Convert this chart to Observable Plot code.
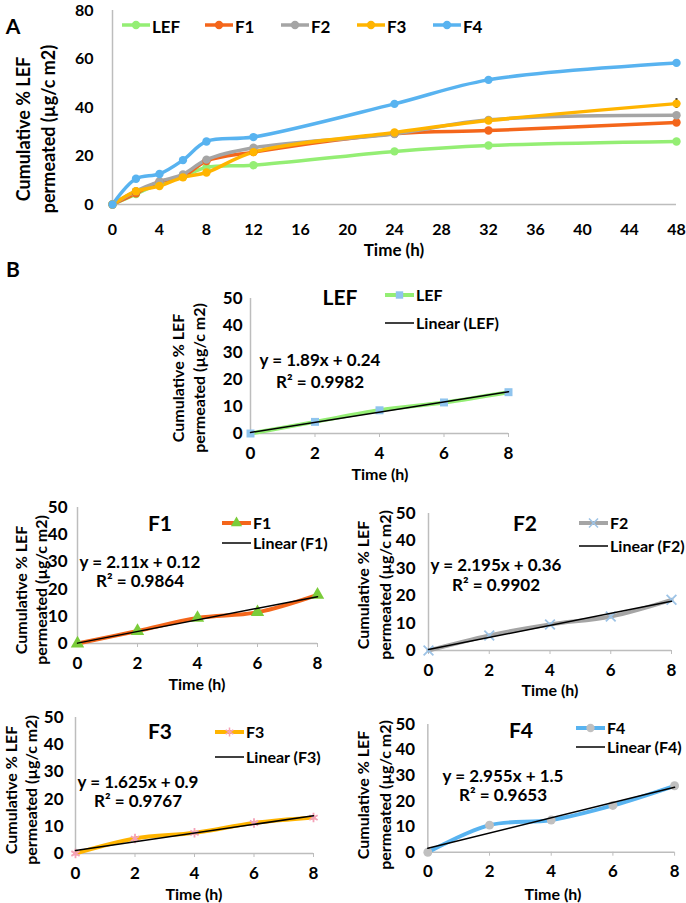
<!DOCTYPE html>
<html>
<head>
<meta charset="utf-8">
<script src="https://cdn.jsdelivr.net/npm/d3@7"></script>
<script src="https://cdn.jsdelivr.net/npm/@observablehq/plot@0.6"></script>
<style>
  html, body { margin: 0; padding: 0; background: #fff; }
  #root { position: relative; width: 686px; height: 903px; background: #fff; font-family: Lato, "Open Sans", sans-serif; font-weight: bold; color: #000; overflow: hidden; }
  .abs { position: absolute; white-space: nowrap; line-height: 1; }
  .plotbox { position: absolute; }
</style>
</head>
<body>
<div id="root"></div>
<script>
// ---------------- DATA ----------------
const times = [0, 2, 4, 6, 8, 12, 24, 32, 48];
const seriesNames = ["LEF", "F1", "F2", "F3", "F4"];
const lefValues = [0, 4.3, 8.6, 11.5, 15.3, 16.2, 21.9, 24.3, 26.0];
const f1Values  = [0, 4.6, 9.4, 11.5, 17.9, 21.6, 29.2, 30.5, 33.8];
const f2Values  = [0, 5.5, 9.5, 12.4, 18.5, 23.4, 29.1, 34.9, 36.8];
const f3Values  = [0, 5.5, 7.6, 11.2, 13.2, 21.6, 29.7, 34.6, 41.6];
const f4Values  = [0, 10.6, 12.6, 18.3, 26.0, 27.8, 41.5, 51.4, 58.4];
const f1Err = [0, 0, 0, 0, 0, 1.8, 0, 0, 0];
const f2Err = [0, 0, 0, 0, 0.8, 0, 0, 0, 1.0];
const f3Err = [0, 0, 0, 0, 0, 0, 0, 0, 2.0];
const f4Err = [0, 0, 0, 0, 1.2, 0, 0, 0, 0.8];
const lefErr = [0, 0, 0, 0, 0, 0, 0, 0, 0];
const xTicksA = [0, 4, 8, 12, 16, 20, 24, 28, 32, 36, 40, 44, 48];
const yTicksA = [0, 20, 40, 60, 80];
const xTicksB = [0, 2, 4, 6, 8];
const yTicksB = [0, 10, 20, 30, 40, 50];
const fitEquations = ["y = 1.89x + 0.24", "y = 2.11x + 0.12", "y = 2.195x + 0.36", "y = 1.625x + 0.9", "y = 2.955x + 1.5"];
const fitR2 = ["R² = 0.9982", "R² = 0.9864", "R² = 0.9902", "R² = 0.9767", "R² = 0.9653"];
const yTitleLines = ["Cumulative % LEF", "permeated (µg/c m2)"];
const xTitle = "Time (h)";

// ---------------- STYLE ----------------
const allValues = [lefValues, f1Values, f2Values, f3Values, f4Values];
const allErr = [lefErr, f1Err, f2Err, f3Err, f4Err];
const lineColors = ["#94EE74", "#F4661B", "#A5A5A5", "#FFB400", "#58B3F0"];
const markerColorsB = ["#8FC4EE", "#7ACC3A", "#9DC3E6", "#F4A2B8", "#C0C0C0"];
const markerSymbolsB = ["square", "triangle", "times", "asterisk", "circle"];
const axisGray = "#BDBDBD";
const FONT = "Lato, 'Open Sans', sans-serif";

const root = document.getElementById("root");

function addText(txt, x, y, size, anchor = "middle", rotate = false) {
  const d = document.createElement("div");
  d.className = "abs";
  d.textContent = txt;
  d.style.left = x + "px";
  d.style.top = y + "px";
  d.style.fontSize = size + "px";
  let tr = anchor === "middle" ? "translate(-50%,-50%)" : "translate(0,-50%)";
  if (rotate) tr += " rotate(-90deg)";
  d.style.transform = tr;
  root.appendChild(d);
}

const symbolMap = {
  square: d3.symbolSquare, triangle: d3.symbolTriangle, times: d3.symbolTimes,
  asterisk: d3.symbolAsterisk, circle: d3.symbolCircle
};
const strokeSymbols = new Set(["times", "asterisk"]);

function addSwatch(x, y, w, lineColor, lineWidth, symbol, markerColor, symSize) {
  const ns = "http://www.w3.org/2000/svg";
  const svg = document.createElementNS(ns, "svg");
  svg.setAttribute("width", w);
  svg.setAttribute("height", 16);
  svg.style.position = "absolute";
  svg.style.left = x + "px";
  svg.style.top = (y - 8) + "px";
  svg.style.overflow = "visible";
  const ln = document.createElementNS(ns, "line");
  ln.setAttribute("x1", 0); ln.setAttribute("x2", w);
  ln.setAttribute("y1", 8); ln.setAttribute("y2", 8);
  ln.setAttribute("stroke", lineColor); ln.setAttribute("stroke-width", lineWidth);
  svg.appendChild(ln);
  if (symbol) {
    const p = document.createElementNS(ns, "path");
    p.setAttribute("d", d3.symbol(symbolMap[symbol], symSize)());
    p.setAttribute("transform", `translate(${w / 2},8)`);
    if (strokeSymbols.has(symbol)) {
      p.setAttribute("fill", "none"); p.setAttribute("stroke", markerColor); p.setAttribute("stroke-width", 1.5);
    } else {
      p.setAttribute("fill", markerColor);
    }
    svg.appendChild(p);
  }
  root.appendChild(svg);
}

function place(el, left, top) {
  const box = document.createElement("div");
  box.className = "plotbox";
  box.style.left = left + "px";
  box.style.top = top + "px";
  box.appendChild(el);
  root.appendChild(box);
}

// ---------------- PANEL A ----------------
const dataA = [];
const errA = [];
seriesNames.forEach((s, i) => {
  times.forEach((t, j) => {
    dataA.push({series: s, t, v: allValues[i][j]});
    if (allErr[i][j] > 0) errA.push({series: s, t, v: allValues[i][j], e: allErr[i][j]});
  });
});

const plotA = Plot.plot({
  width: 686, height: 260,
  marginLeft: 112, marginRight: 10, marginTop: 10, marginBottom: 56,
  x: {domain: [0, 48]},
  y: {domain: [0, 80]},
  color: {domain: seriesNames, range: lineColors},
  style: {fontFamily: FONT, fontSize: "16px", fontWeight: "bold", color: "#000", background: "transparent", overflow: "visible"},
  marks: [
    Plot.ruleX([0], {stroke: axisGray, strokeWidth: 1.5}),
    Plot.ruleY([0], {stroke: axisGray, strokeWidth: 1.5}),
    Plot.axisX({ticks: xTicksA, tickSize: 0, tickPadding: 19, label: null}),
    Plot.axisY({ticks: yTicksA, tickSize: 0, tickPadding: 19, label: null}),
    Plot.line(dataA, {x: "t", y: "v", z: "series", stroke: "series", strokeWidth: 3.5, curve: "catmull-rom"}),
    Plot.ruleX(errA, {x: "t", y1: d => d.v - d.e, y2: d => d.v + d.e, stroke: "#000", strokeWidth: 2}),
    Plot.dot(dataA, {x: "t", y: "v", fill: "series", r: 4.2})
  ]
});
place(plotA, 0, 0);

addText("A", 13, 25, 21);
addText(yTitleLines[0], 23, 129, 18, "middle", true);
addText(yTitleLines[1], 48, 129, 18, "middle", true);
addText(xTitle, 394, 249, 17);

const legendAX = [122, 205, 281, 357, 433];
seriesNames.forEach((s, i) => {
  addSwatch(legendAX[i], 25, 28, lineColors[i], 3.5, "circle", lineColors[i], 55);
  addText(s, legendAX[i] + 30, 26, 17, "start");
});

addText("B", 13, 268, 21);

// ---------------- PANEL B ----------------
const layoutB = [
  {x0: 250, x1: 508, yT: 298, yB: 433, yPad: 8,  title: [340, 296], leg: [385, 295, 323], eq: [320, 359], r2: 381, yt: [178, 199, 378], xt: [380, 474]},
  {x0: 77,  x1: 317, yT: 507, yB: 643, yPad: 10, title: [160, 522], leg: [222, 523, 543], eq: [140, 561], r2: 580, yt: [21, 41, 590],   xt: [197, 684]},
  {x0: 428, x1: 671, yT: 513, yB: 650, yPad: 13, title: [525, 522], leg: [579, 523, 546], eq: [496, 564], r2: 584, yt: [363, 385, 585], xt: [550, 690]},
  {x0: 75,  x1: 313, yT: 717, yB: 853, yPad: 12, title: [160, 730], leg: [215, 732, 757], eq: [138, 781], r2: 800, yt: [11, 31, 790],   xt: [194, 894]},
  {x0: 428, x1: 677, yT: 724, yB: 853, yPad: 13, title: [521, 729], leg: [576, 728, 747], eq: [503, 775], r2: 794, yt: [363, 385, 795], xt: [553, 894]}
];

seriesNames.forEach((s, i) => {
  const g = layoutB[i];
  const data = xTicksB.map((t, j) => ({t, v: allValues[i][j]}));
  const mL = 75, mR = 12, mT = 10, mB = 40;
  const sym = markerSymbolsB[i];
  const dotOpts = strokeSymbols.has(sym)
    ? {x: "t", y: "v", symbol: sym, r: 4.5, stroke: markerColorsB[i], strokeWidth: 1.8, fill: "none"}
    : {x: "t", y: "v", symbol: sym, r: sym === "triangle" ? 5 : 4.5, fill: markerColorsB[i]};
  const p = Plot.plot({
    width: g.x1 - g.x0 + mL + mR,
    height: g.yB - g.yT + mT + mB,
    marginLeft: mL, marginRight: mR, marginTop: mT, marginBottom: mB,
    x: {domain: [0, 8]},
    y: {domain: [0, 50]},
    style: {fontFamily: FONT, fontSize: "17px", fontWeight: "bold", color: "#000", background: "transparent", overflow: "visible"},
    marks: [
      Plot.ruleX([0], {stroke: axisGray, strokeWidth: 1.5}),
      Plot.ruleY([0], {stroke: axisGray, strokeWidth: 1.5}),
      Plot.axisX({ticks: xTicksB, tickSize: 4, stroke: axisGray, tickPadding: 9, label: null}),
      Plot.axisY({ticks: yTicksB, tickSize: 0, tickPadding: g.yPad, label: null}),
      Plot.line(data, {x: "t", y: "v", stroke: lineColors[i], strokeWidth: 4, curve: "catmull-rom"}),
      Plot.dot(data, dotOpts),
      Plot.linearRegressionY(data, {x: "t", y: "v", stroke: "#000", strokeWidth: 1.5, ci: 0})
    ]
  });
  place(p, g.x0 - mL, g.yT - mT);

  addText(s, g.title[0], g.title[1], 21);
  addSwatch(g.leg[0], g.leg[1], 29, lineColors[i], 4, sym, markerColorsB[i], 55);
  addText(s, g.leg[0] + 31, g.leg[1], 16, "start");
  addSwatch(g.leg[0], g.leg[2], 29, "#000", 1.5, null);
  addText("Linear (" + s + ")", g.leg[0] + 31, g.leg[2], 16, "start");
  addText(fitEquations[i], g.eq[0], g.eq[1], 17);
  addText(fitR2[i], g.eq[0], g.r2, 17);
  addText(yTitleLines[0], g.yt[0], g.yt[2], 16, "middle", true);
  addText(yTitleLines[1], g.yt[1], g.yt[2], 16, "middle", true);
  addText(xTitle, g.xt[0], g.xt[1], 16);
});
</script>
</body>
</html>
